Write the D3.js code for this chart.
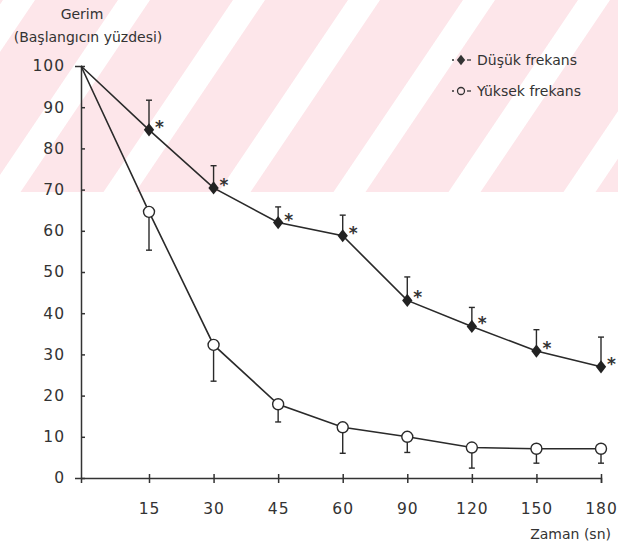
<!DOCTYPE html>
<head>
  <meta charset="utf-8">
  <script src="https://d3js.org/d3.v7.min.js"></script>
  <style>
    body { margin: 0; background: #fff; }
    text { font-family: "DejaVu Sans", sans-serif; fill: #333; }
    .axis path, .axis line { stroke: #333; stroke-width: 1.5; }
    .axis text { font-size: 15.5px; letter-spacing: 1px; fill: #333; }
  </style>
</head>
<body>
  <div id="chart"></div>
  <script>
    // time points (sn) - equally spaced on the axis
    var cats = ["0", "15", "30", "45", "60", "90", "120", "150", "180"];
    var yTicks = [0, 10, 20, 30, 40, 50, 60, 70, 80, 90, 100];
    // Düşük frekans: mean and top of error bar
    var dusuk = [100, 84.5, 70.4, 62, 58.8, 43.1, 36.8, 30.8, 27];
    var dusukTop = [null, 91.7, 75.8, 65.8, 63.8, 48.8, 41.4, 36, 34.2];
    // Yüksek frekans: mean and bottom of error bar
    var yuksek = [100, 64.6, 32.3, 17.9, 12.3, 10, 7.4, 7.1, 7.1];
    var yuksekBot = [null, 55.3, 23.5, 13.6, 6, 6.2, 2.4, 3.6, 3.6];

    var width = 618, height = 543;
    var svg = d3.select("#chart").append("svg")
      .attr("width", width)
      .attr("height", height);

    // pink watermark stripes at the top
    var defs = svg.append("defs");
    var pat = defs.append("pattern")
      .attr("id", "stripes")
      .attr("patternUnits", "userSpaceOnUse")
      .attr("width", 115).attr("height", 20)
      .attr("patternTransform", "translate(118,0) skewX(-34)");
    pat.append("rect").attr("x", 0).attr("width", 115).attr("height", 20).attr("fill", "#fde6ea");
    pat.append("rect").attr("x", 0).attr("width", 32).attr("height", 20).attr("fill", "#fff");
    svg.append("rect")
      .attr("x", 0).attr("y", 0)
      .attr("width", width).attr("height", 192)
      .attr("fill", "url(#stripes)");

    var x = d3.scaleLinear().domain([0, 1, cats.length - 1]).range([81, 149, 601]);
    var y = d3.scaleLinear().domain([0, 100]).range([478, 66]);

    // axes
    var xAxis = svg.append("g")
      .attr("class", "axis")
      .attr("transform", "translate(0," + y(0) + ")")
      .call(d3.axisBottom(x)
        .tickValues(d3.range(1, cats.length))
        .tickFormat(function(i) { return cats[i]; })
        .tickSizeOuter(0)
        .tickSize(5)
        .tickPadding(20));
    xAxis.selectAll(".tick line").attr("y1", -4);

    var yAxis = svg.append("g")
      .attr("class", "axis")
      .attr("transform", "translate(" + x(0) + ",0)")
      .call(d3.axisLeft(y)
        .tickValues(yTicks)
        .tickSizeOuter(0)
        .tickSize(6)
        .tickPadding(10));
    yAxis.selectAll(".tick line").attr("x2", 4);

    var line = d3.line()
      .x(function(d, i) { return x(i); })
      .y(function(d) { return y(d); });

    // lines
    svg.append("path").datum(yuksek)
      .attr("d", line)
      .attr("fill", "none").attr("stroke", "#2a2a2a").attr("stroke-width", 1.6);
    svg.append("path").datum(dusuk)
      .attr("d", line)
      .attr("fill", "none").attr("stroke", "#2a2a2a").attr("stroke-width", 1.6);

    var idx = d3.range(1, cats.length);

    // error bars
    function errBars(vals, ends) {
      var g = svg.append("g").attr("stroke", "#2a2a2a").attr("stroke-width", 1.4);
      g.selectAll(".bar").data(idx).enter().append("line")
        .attr("x1", function(i) { return x(i); })
        .attr("x2", function(i) { return x(i); })
        .attr("y1", function(i) { return y(vals[i]); })
        .attr("y2", function(i) { return y(ends[i]); });
      g.selectAll(".cap").data(idx).enter().append("line")
        .attr("x1", function(i) { return x(i) - 3; })
        .attr("x2", function(i) { return x(i) + 3; })
        .attr("y1", function(i) { return y(ends[i]); })
        .attr("y2", function(i) { return y(ends[i]); });
    }
    errBars(dusuk, dusukTop);
    errBars(yuksek, yuksekBot);

    // markers
    var diamond = d3.symbol().type(d3.symbolDiamond).size(70);
    svg.selectAll(".dm").data(idx).enter().append("path")
      .attr("d", diamond)
      .attr("transform", function(i) { return "translate(" + x(i) + "," + y(dusuk[i]) + ") scale(1.15,0.85)"; })
      .attr("fill", "#222");

    svg.selectAll(".cm").data(idx).enter().append("circle")
      .attr("cx", function(i) { return x(i); })
      .attr("cy", function(i) { return y(yuksek[i]); })
      .attr("r", 5.5)
      .attr("fill", "#fff").attr("stroke", "#2a2a2a").attr("stroke-width", 1.4);

    // significance stars
    svg.selectAll(".star").data(idx).enter().append("text")
      .attr("x", function(i) { return x(i) + 6; })
      .attr("y", function(i) { return y(dusuk[i]) + 3; })
      .style("font-size", "17px")
      .style("font-weight", "bold")
      .style("fill", "#333")
      .text("*");

    // axis titles
    svg.append("text").attr("x", 82).attr("y", 19)
      .attr("text-anchor", "middle").style("font-size", "14px").text("Gerim");
    svg.append("text").attr("x", 88).attr("y", 42)
      .attr("text-anchor", "middle").style("font-size", "14px").text("(Başlangıcın yüzdesi)");
    svg.append("text").attr("x", 611).attr("y", 539)
      .attr("text-anchor", "end").style("font-size", "14px").text("Zaman (sn)");

    // legend
    var legend = [
      { name: "Düşük frekans", type: "diamond" },
      { name: "Yüksek frekans", type: "circle" }
    ];
    var lg = svg.selectAll(".lg").data(legend).enter().append("g")
      .attr("transform", function(d, i) { return "translate(452," + (60 + i * 31) + ")"; });
    lg.append("circle").attr("cx", 1).attr("cy", 0).attr("r", 1).attr("fill", "#333");
    lg.filter(function(d) { return d.type == "diamond"; }).append("path")
      .attr("d", d3.symbol().type(d3.symbolDiamond).size(45))
      .attr("transform", "translate(9,0) scale(1.15,0.85)")
      .attr("fill", "#333");
    lg.filter(function(d) { return d.type == "circle"; }).append("circle")
      .attr("cx", 9).attr("cy", 0).attr("r", 3.5)
      .attr("fill", "none").attr("stroke", "#333").attr("stroke-width", 1.3);
    lg.append("line").attr("x1", 15).attr("x2", 19).attr("y1", 0).attr("y2", 0)
      .attr("stroke", "#333").attr("stroke-width", 1.3);
    lg.append("text").attr("x", 25).attr("y", 5)
      .style("font-size", "14px")
      .text(function(d) { return d.name; });
  </script>
</body>
